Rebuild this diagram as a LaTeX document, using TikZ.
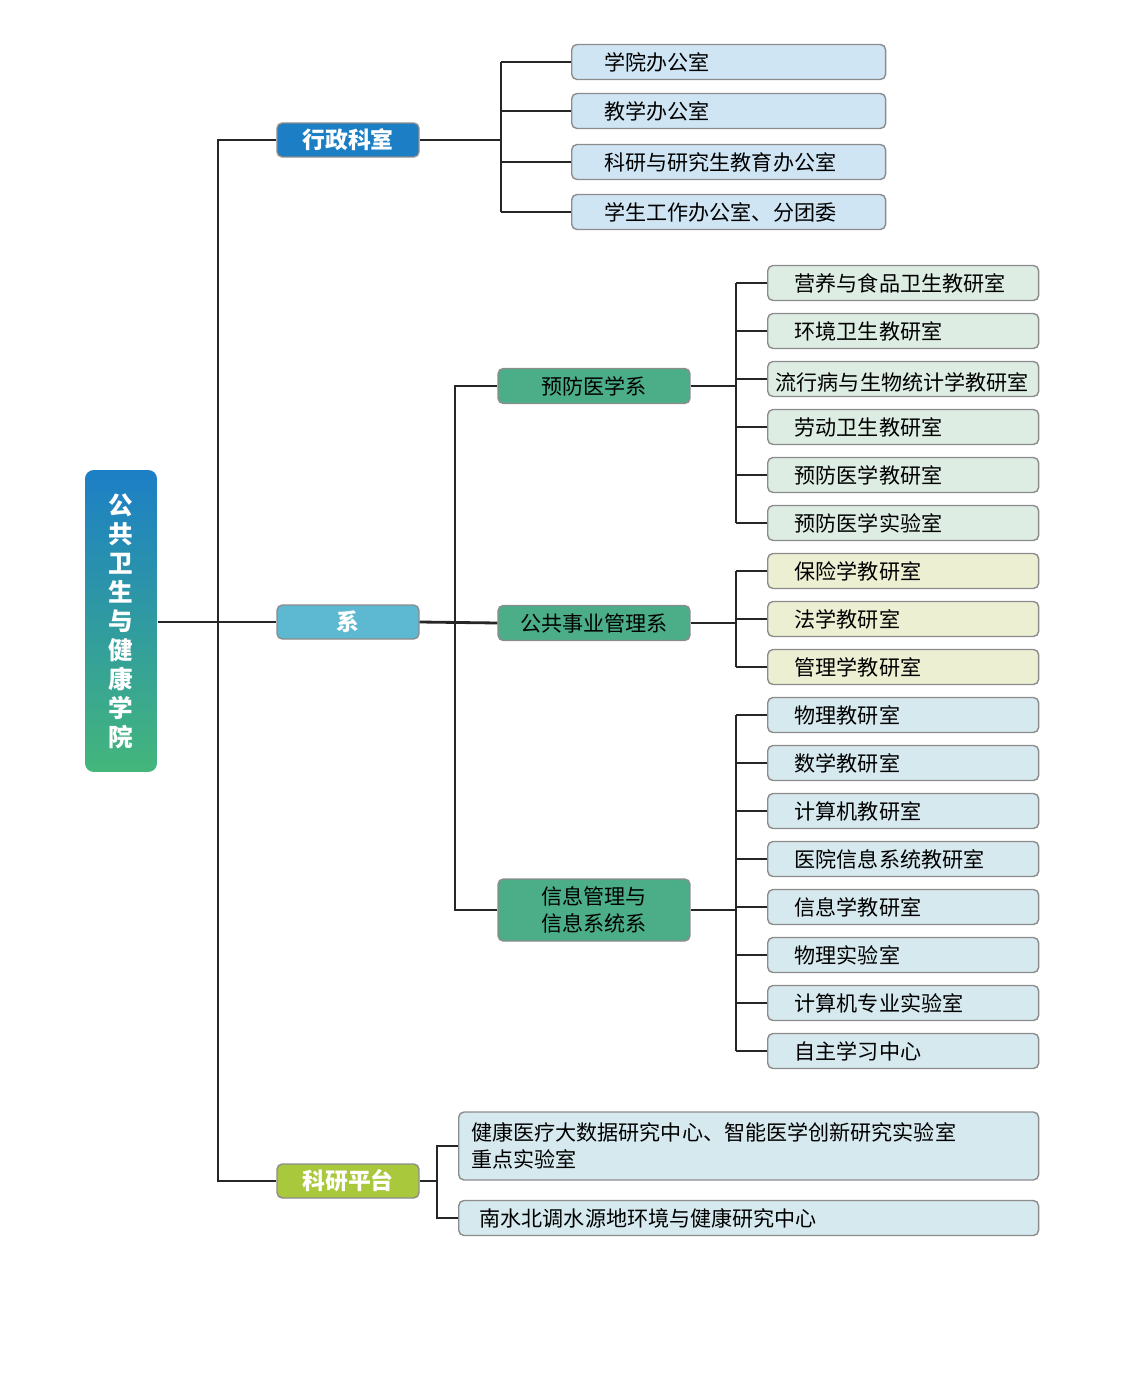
\documentclass[tikz,border=0pt]{standalone}
\usepackage{fontspec}
\setmainfont{Noto Sans CJK SC}
\definecolor{adminblue}{HTML}{1C7FC6}
\definecolor{deptblue}{HTML}{5DB8D2}
\definecolor{resgreen}{HTML}{A9C83C}
\definecolor{subgreen}{HTML}{4BAE89}
\definecolor{leafblue}{HTML}{CFE5F4}
\definecolor{leafgreen}{HTML}{DDEDE4}
\definecolor{leafyellow}{HTML}{EDEFD3}
\definecolor{leafcyan}{HTML}{D6E9EF}
\begin{document}
\begin{tikzpicture}[x=0.02cm,y=-0.02cm,line width=1.6pt,draw=black!85]
    \tikzstyle{box}=[rounded corners=3pt,draw=black!45,line width=0.8pt,inner sep=2pt]
    \tikzstyle{top}=[box,minimum width=2.84cm,minimum height=0.68cm,text=white,font=\fontsize{13}{15}\selectfont\bfseries]
    \tikzstyle{dept}=[box,fill=subgreen,minimum width=3.84cm,minimum height=0.7cm,font=\fontsize{12}{14}\selectfont,align=center]
    \tikzstyle{leaf}=[box,minimum width=5.42cm,minimum height=0.7cm,anchor=west,text width=5.1cm,font=\fontsize{12}{14}\selectfont]
    \useasboundingbox (0,0) rectangle (1139,1378);

    % root
    \node[rounded corners=5pt,top color=adminblue,bottom color=subgreen!90!green,minimum width=1.44cm,text width=0.7cm,inner sep=0pt,
      minimum height=6.04cm,text=white,align=center,font=\fontsize{14}{16.5}\selectfont\bfseries] (root) at (121,621)
      {公\\共\\卫\\生\\与\\健\\康\\学\\院};

    % first level
    \node[top,fill=adminblue] (admin) at (348,140) {行政科室};
    \node[top,fill=deptblue] (xi) at (348,622) {系};
    \node[top,fill=resgreen] (res) at (348,1181) {科研平台};
    \coordinate (trunk) at (218,622);
    \draw (root.east |- xi.west) -- (xi.west);
    \draw (admin.west) -| (trunk) |- (res.west);

    % admin offices
    \coordinate (abus) at (501,140);
    \foreach \name/\y/\txt in {1/62/学院办公室,2/111/教学办公室,3/162/科研与研究生教育办公室,4/212/学生工作办公室、分团委}{
      \node[leaf,fill=leafblue,minimum width=6.28cm,text width=5.9cm] (A-\name) at (571,\y) {\hspace{1.1em}\txt};
      \draw (abus |- A-\name.west) -- (A-\name.west);
    }
    \draw (admin.east) -- (abus);
    \draw (abus |- A-1.west) -- (abus |- A-4.west);

    % departments
    \node[dept] (D-1) at (594,386) {预防医学系};
    \node[dept] (D-2) at (594,623) {公共事业管理系};
    \node[dept,minimum height=1.24cm,font=\fontsize{12}{15}\selectfont] (D-3) at (594,910) {信息管理与\\信息系统系};
    \coordinate (dbus) at (455,622);
    \draw (xi.east) -- (D-2.west);
    \draw (D-1.west) -| (dbus) |- (D-3.west);

    % teaching rooms
    \coordinate (lbus) at (736,0);
    \foreach \name/\y/\txt in {1/283/营养与食品卫生教研室,2/331/环境卫生教研室,3/379/流行病与生物统计学教研室,4/427/劳动卫生教研室,5/475/预防医学教研室,6/523/预防医学实验室}{
      \node[leaf,fill=leafgreen] (P-\name) at (767,\y) {\hspace{0.9em}\txt};
      \draw (lbus |- P-\name.west) -- (P-\name.west);
    }
    \draw (lbus |- P-1.west) -- (lbus |- P-6.west);
    \draw (D-1.east) -- (lbus |- D-1.east);
    \foreach \name/\y/\txt in {1/571/保险学教研室,2/619/法学教研室,3/667/管理学教研室}{
      \node[leaf,fill=leafyellow] (G-\name) at (767,\y) {\hspace{0.9em}\txt};
      \draw (lbus |- G-\name.west) -- (G-\name.west);
    }
    \draw (lbus |- G-1.west) -- (lbus |- G-3.west);
    \draw (D-2.east) -- (lbus |- D-2.east);
    \foreach \name/\y/\txt in {1/715/物理教研室,2/763/数学教研室,3/811/计算机教研室,4/859/医院信息系统教研室,5/907/信息学教研室,6/955/物理实验室,7/1003/计算机专业实验室,8/1051/自主学习中心}{
      \node[leaf,fill=leafcyan] (I-\name) at (767,\y) {\hspace{0.9em}\txt};
      \draw (lbus |- I-\name.west) -- (I-\name.west);
    }
    \draw (lbus |- I-1.west) -- (lbus |- I-8.west);
    \draw (D-3.east) -- (lbus |- D-3.east);

    % research platforms
    \coordinate (rbus) at (437,1181);
    \node[leaf,fill=leafcyan,minimum width=11.6cm,text width=11.1cm,minimum height=1.36cm,font=\fontsize{12}{15}\selectfont] (R-1) at (458,1146)
      {健康医疗大数据研究中心、智能医学创新研究实验室\\重点实验室};
    \node[leaf,fill=leafcyan,minimum width=11.6cm,text width=11.1cm] (R-2) at (458,1218) {\hspace{0.4em}南水北调水源地环境与健康研究中心};
    \draw (res.east) -- (rbus);
    \draw (R-1.west) -| (rbus) |- (R-2.west);
\end{tikzpicture}
\end{document}
